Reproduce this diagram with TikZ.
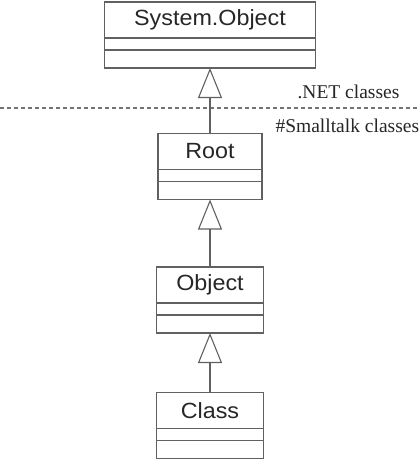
\documentclass[tikz,border=0pt]{standalone}
\usepackage{fontspec}
\setmainfont{Liberation Serif}
\newfontfamily\umlfont[FakeStretch=1.06]{Liberation Sans}
\usetikzlibrary{positioning,arrows.meta}

\begin{document}
\begin{tikzpicture}[
      x=1pt, y=-1pt,
      line width=1.1pt,
      classname/.style={draw=black!62, text=black!85, minimum height=36pt,
        inner sep=0pt, outer sep=0pt, font=\umlfont\fontsize{22}{22}\selectfont},
      attrpart/.style={draw=black!62, minimum height=12pt, inner sep=0pt, outer sep=0pt},
      methpart/.style={draw=black!62, minimum height=18pt, inner sep=0pt, outer sep=0pt},
      inherit/.style={draw=black!62, -{Triangle[open, length=30pt, width=24pt, fill=white]}},
      note/.style={anchor=west, inner sep=0pt, text=black!85, font=\fontsize{19.5}{19.5}\selectfont}
    ]
    \useasboundingbox (0, 0) rectangle (418, 463);

    % System.Object class
    \node [classname, minimum width=211pt] (sys) at (210, 20) {System.Object};
    \node [attrpart, minimum width=211pt, below=0pt of sys] (sysattr) {};
    \node [methpart, minimum width=211pt, below=0pt of sysattr] (sysmeth) {};

    % Root class
    \node [classname, minimum width=104pt] (root) at (210, 151.5) {Root};
    \node [attrpart, minimum width=104pt, below=0pt of root] (rootattr) {};
    \node [methpart, minimum width=104pt, below=0pt of rootattr] (rootmeth) {};

    % Object class
    \node [classname, minimum width=107pt] (obj) at (210, 285) {Object};
    \node [attrpart, minimum width=107pt, below=0pt of obj] (objattr) {};
    \node [methpart, minimum width=107pt, below=0pt of objattr] (objmeth) {};

    % Class class
    \node [classname, minimum width=107pt] (cls) at (210, 410.5) {Class};
    \node [attrpart, minimum width=107pt, below=0pt of cls] (clsattr) {};
    \node [methpart, minimum width=107pt, below=0pt of clsattr] (clsmeth) {};

    % boundary between the two worlds
    \coordinate (sepleft) at (0, 108);
    \coordinate (sepright) at (418, 108);
    \draw [black!55, dash pattern=on 4pt off 3pt] (sepleft) -- (sepright);
    \node [note] (netlabel) at (297, 92) {.NET classes};
    \node [note] (stlabel) at (275, 126) {\#Smalltalk classes};

    % inheritance
    \draw [inherit] (root.north) -- (sysmeth.south);
    \draw [inherit] (obj.north) -- (rootmeth.south);
    \draw [inherit] (cls.north) -- (objmeth.south);
  \end{tikzpicture}
\end{document}
